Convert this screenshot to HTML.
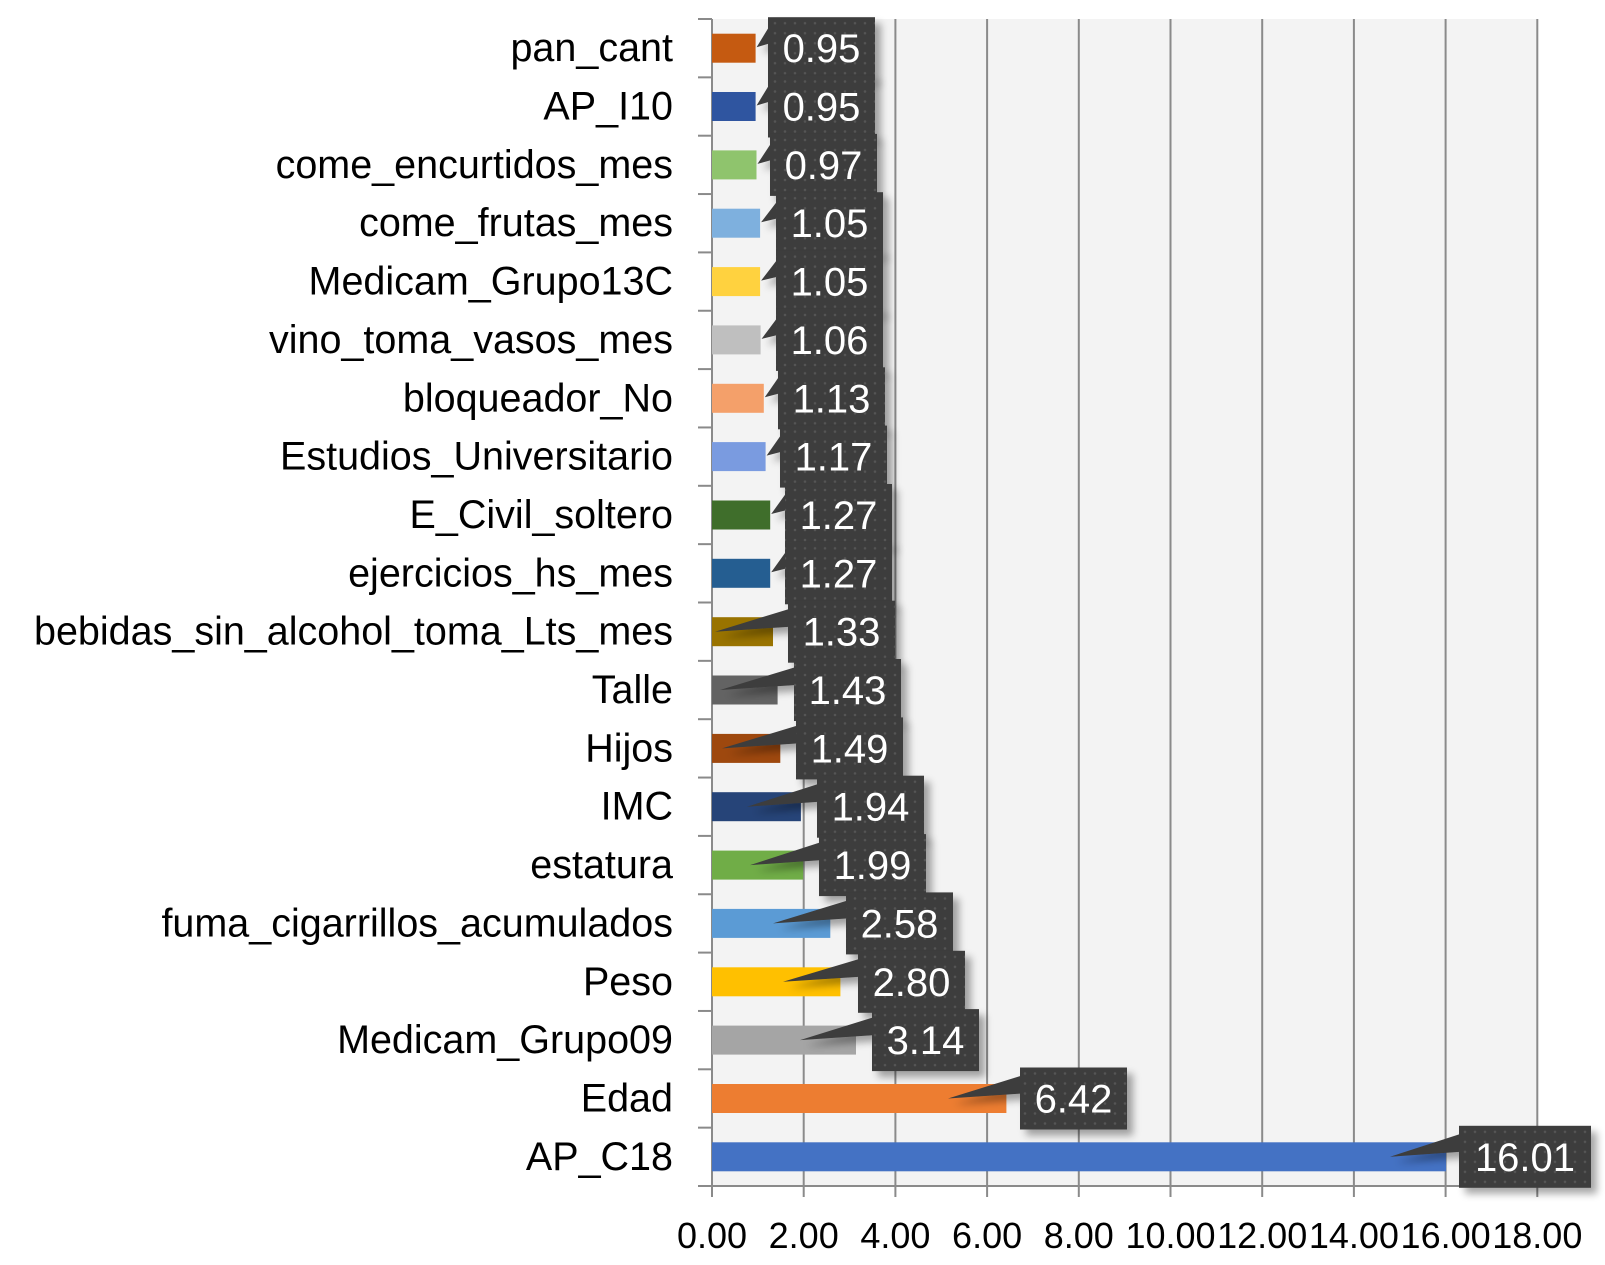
<!DOCTYPE html><html><head><style>body{margin:0;background:#fff}svg{display:block}</style></head><body>
<svg width="1605" height="1265" xmlns="http://www.w3.org/2000/svg" font-family="Liberation Sans, sans-serif">
<defs>
<pattern id="dots" width="10" height="10" patternUnits="userSpaceOnUse"><rect width="10" height="10" fill="#3c3c3c"/><circle cx="5" cy="5" r="1.3" fill="#555"/></pattern>
<filter id="sh" x="-20%" y="-20%" width="150%" height="150%"><feGaussianBlur in="SourceAlpha" stdDeviation="4"/><feOffset dx="6" dy="6"/><feComponentTransfer><feFuncA type="linear" slope="0.35"/></feComponentTransfer><feMerge><feMergeNode/><feMergeNode in="SourceGraphic"/></feMerge></filter>
</defs>
<rect x="712" y="19" width="825" height="1167" fill="#f3f3f3"/>
<g stroke="#8a8a8a" stroke-width="2">
<line x1="712" y1="19" x2="712" y2="1197"/><line x1="803.7" y1="19" x2="803.7" y2="1197"/><line x1="895.4" y1="19" x2="895.4" y2="1197"/><line x1="987.1" y1="19" x2="987.1" y2="1197"/><line x1="1078.8" y1="19" x2="1078.8" y2="1197"/><line x1="1170.5" y1="19" x2="1170.5" y2="1197"/><line x1="1262.2" y1="19" x2="1262.2" y2="1197"/><line x1="1353.9" y1="19" x2="1353.9" y2="1197"/><line x1="1445.6" y1="19" x2="1445.6" y2="1197"/><line x1="1537.3" y1="19" x2="1537.3" y2="1197"/>
<line x1="698" y1="1186" x2="1537" y2="1186"/>
<line x1="698" y1="19" x2="712" y2="19"/><line x1="698" y1="77.35" x2="712" y2="77.35"/><line x1="698" y1="135.7" x2="712" y2="135.7"/><line x1="698" y1="194.05" x2="712" y2="194.05"/><line x1="698" y1="252.4" x2="712" y2="252.4"/><line x1="698" y1="310.75" x2="712" y2="310.75"/><line x1="698" y1="369.1" x2="712" y2="369.1"/><line x1="698" y1="427.45" x2="712" y2="427.45"/><line x1="698" y1="485.8" x2="712" y2="485.8"/><line x1="698" y1="544.15" x2="712" y2="544.15"/><line x1="698" y1="602.5" x2="712" y2="602.5"/><line x1="698" y1="660.85" x2="712" y2="660.85"/><line x1="698" y1="719.2" x2="712" y2="719.2"/><line x1="698" y1="777.55" x2="712" y2="777.55"/><line x1="698" y1="835.9" x2="712" y2="835.9"/><line x1="698" y1="894.25" x2="712" y2="894.25"/><line x1="698" y1="952.6" x2="712" y2="952.6"/><line x1="698" y1="1010.95" x2="712" y2="1010.95"/><line x1="698" y1="1069.3" x2="712" y2="1069.3"/><line x1="698" y1="1127.65" x2="712" y2="1127.65"/>
</g>
<g font-size="36" text-anchor="middle" fill="#000">
<text x="712" y="1248">0.00</text><text x="803.7" y="1248">2.00</text><text x="895.4" y="1248">4.00</text><text x="987.1" y="1248">6.00</text><text x="1078.8" y="1248">8.00</text><text x="1170.5" y="1248">10.00</text><text x="1262.2" y="1248">12.00</text><text x="1353.9" y="1248">14.00</text><text x="1445.6" y="1248">16.00</text><text x="1537.3" y="1248">18.00</text>
</g>
<g font-size="39.5" text-anchor="end">
<g transform="translate(0,48.2)"><rect x="712" y="-14.5" width="43.6" height="29" fill="#c55a11"/><text x="673" y="13">pan_cant</text><g filter="url(#sh)"><polygon points="770,-23 756.6,-1 770,-5" fill="#3c3c3c"/><rect x="768" y="-31" width="107" height="62" fill="url(#dots)"/></g><text x="821.5" y="14" font-size="40" text-anchor="middle" fill="#fff">0.95</text></g>
<g transform="translate(0,106.5)"><rect x="712" y="-14.5" width="43.6" height="29" fill="#2f55a0"/><text x="673" y="13">AP_I10</text><g filter="url(#sh)"><polygon points="770,-23 756.6,-1 770,-5" fill="#3c3c3c"/><rect x="768" y="-31" width="107" height="62" fill="url(#dots)"/></g><text x="821.5" y="14" font-size="40" text-anchor="middle" fill="#fff">0.95</text></g>
<g transform="translate(0,164.9)"><rect x="712" y="-14.5" width="44.5" height="29" fill="#8fc46d"/><text x="673" y="13">come_encurtidos_mes</text><g filter="url(#sh)"><polygon points="772,-23 757.5,-1 772,-5" fill="#3c3c3c"/><rect x="770" y="-31" width="107" height="62" fill="url(#dots)"/></g><text x="823.5" y="14" font-size="40" text-anchor="middle" fill="#fff">0.97</text></g>
<g transform="translate(0,223.2)"><rect x="712" y="-14.5" width="48.1" height="29" fill="#7eb0de"/><text x="673" y="13">come_frutas_mes</text><g filter="url(#sh)"><polygon points="778,-23 761.1,-1 778,-5" fill="#3c3c3c"/><rect x="776" y="-31" width="107" height="62" fill="url(#dots)"/></g><text x="829.5" y="14" font-size="40" text-anchor="middle" fill="#fff">1.05</text></g>
<g transform="translate(0,281.6)"><rect x="712" y="-14.5" width="48.1" height="29" fill="#ffd23f"/><text x="673" y="13">Medicam_Grupo13C</text><g filter="url(#sh)"><polygon points="778,-23 761.1,-1 778,-5" fill="#3c3c3c"/><rect x="776" y="-31" width="107" height="62" fill="url(#dots)"/></g><text x="829.5" y="14" font-size="40" text-anchor="middle" fill="#fff">1.05</text></g>
<g transform="translate(0,339.9)"><rect x="712" y="-14.5" width="48.6" height="29" fill="#bfbfbf"/><text x="673" y="13">vino_toma_vasos_mes</text><g filter="url(#sh)"><polygon points="778,-23 761.6,-1 778,-5" fill="#3c3c3c"/><rect x="776" y="-31" width="107" height="62" fill="url(#dots)"/></g><text x="829.5" y="14" font-size="40" text-anchor="middle" fill="#fff">1.06</text></g>
<g transform="translate(0,398.3)"><rect x="712" y="-14.5" width="51.8" height="29" fill="#f4a06a"/><text x="673" y="13">bloqueador_No</text><g filter="url(#sh)"><polygon points="780,-23 764.8,-1 780,-5" fill="#3c3c3c"/><rect x="778" y="-31" width="107" height="62" fill="url(#dots)"/></g><text x="831.5" y="14" font-size="40" text-anchor="middle" fill="#fff">1.13</text></g>
<g transform="translate(0,456.6)"><rect x="712" y="-14.5" width="53.6" height="29" fill="#7a9be0"/><text x="673" y="13">Estudios_Universitario</text><g filter="url(#sh)"><polygon points="782,-23 766.6,-1 782,-5" fill="#3c3c3c"/><rect x="780" y="-31" width="107" height="62" fill="url(#dots)"/></g><text x="833.5" y="14" font-size="40" text-anchor="middle" fill="#fff">1.17</text></g>
<g transform="translate(0,515.0)"><rect x="712" y="-14.5" width="58.2" height="29" fill="#3f6e2b"/><text x="673" y="13">E_Civil_soltero</text><g filter="url(#sh)"><polygon points="787,-23 771.2,-1 787,-5" fill="#3c3c3c"/><rect x="785" y="-31" width="107" height="62" fill="url(#dots)"/></g><text x="838.5" y="14" font-size="40" text-anchor="middle" fill="#fff">1.27</text></g>
<g transform="translate(0,573.3)"><rect x="712" y="-14.5" width="58.2" height="29" fill="#255e91"/><text x="673" y="13">ejercicios_hs_mes</text><g filter="url(#sh)"><polygon points="787,-23 771.2,-1 787,-5" fill="#3c3c3c"/><rect x="785" y="-31" width="107" height="62" fill="url(#dots)"/></g><text x="838.5" y="14" font-size="40" text-anchor="middle" fill="#fff">1.27</text></g>
<g transform="translate(0,631.7)"><rect x="712" y="-14.5" width="61" height="29" fill="#997300"/><text x="673" y="13">bebidas_sin_alcohol_toma_Lts_mes</text><g filter="url(#sh)"><polygon points="790,-23 715,0 790,-5" fill="#3c3c3c"/><rect x="788" y="-31" width="107" height="62" fill="url(#dots)"/></g><text x="841.5" y="14" font-size="40" text-anchor="middle" fill="#fff">1.33</text></g>
<g transform="translate(0,690.0)"><rect x="712" y="-14.5" width="65.6" height="29" fill="#636363"/><text x="673" y="13">Talle</text><g filter="url(#sh)"><polygon points="796,-23 720,0 796,-5" fill="#3c3c3c"/><rect x="794" y="-31" width="107" height="62" fill="url(#dots)"/></g><text x="847.5" y="14" font-size="40" text-anchor="middle" fill="#fff">1.43</text></g>
<g transform="translate(0,748.4)"><rect x="712" y="-14.5" width="68.3" height="29" fill="#9e480e"/><text x="673" y="13">Hijos</text><g filter="url(#sh)"><polygon points="798,-23 722,0 798,-5" fill="#3c3c3c"/><rect x="796" y="-31" width="107" height="62" fill="url(#dots)"/></g><text x="849.5" y="14" font-size="40" text-anchor="middle" fill="#fff">1.49</text></g>
<g transform="translate(0,806.7)"><rect x="712" y="-14.5" width="88.9" height="29" fill="#264478"/><text x="673" y="13">IMC</text><g filter="url(#sh)"><polygon points="819,-23 747,0 819,-5" fill="#3c3c3c"/><rect x="817" y="-31" width="107" height="62" fill="url(#dots)"/></g><text x="870.5" y="14" font-size="40" text-anchor="middle" fill="#fff">1.94</text></g>
<g transform="translate(0,865.1)"><rect x="712" y="-14.5" width="91.2" height="29" fill="#70ad47"/><text x="673" y="13">estatura</text><g filter="url(#sh)"><polygon points="821,-23 750,0 821,-5" fill="#3c3c3c"/><rect x="819" y="-31" width="107" height="62" fill="url(#dots)"/></g><text x="872.5" y="14" font-size="40" text-anchor="middle" fill="#fff">1.99</text></g>
<g transform="translate(0,923.4)"><rect x="712" y="-14.5" width="118.3" height="29" fill="#5b9bd5"/><text x="673" y="13">fuma_cigarrillos_acumulados</text><g filter="url(#sh)"><polygon points="848,-23 773,0 848,-5" fill="#3c3c3c"/><rect x="846" y="-31" width="107" height="62" fill="url(#dots)"/></g><text x="899.5" y="14" font-size="40" text-anchor="middle" fill="#fff">2.58</text></g>
<g transform="translate(0,981.8)"><rect x="712" y="-14.5" width="128.4" height="29" fill="#ffc000"/><text x="673" y="13">Peso</text><g filter="url(#sh)"><polygon points="860,-23 783,0 860,-5" fill="#3c3c3c"/><rect x="858" y="-31" width="107" height="62" fill="url(#dots)"/></g><text x="911.5" y="14" font-size="40" text-anchor="middle" fill="#fff">2.80</text></g>
<g transform="translate(0,1040.1)"><rect x="712" y="-14.5" width="144" height="29" fill="#a5a5a5"/><text x="673" y="13">Medicam_Grupo09</text><g filter="url(#sh)"><polygon points="874,-23 800,0 874,-5" fill="#3c3c3c"/><rect x="872" y="-31" width="107" height="62" fill="url(#dots)"/></g><text x="925.5" y="14" font-size="40" text-anchor="middle" fill="#fff">3.14</text></g>
<g transform="translate(0,1098.5)"><rect x="712" y="-14.5" width="294.4" height="29" fill="#ed7d31"/><text x="673" y="13">Edad</text><g filter="url(#sh)"><polygon points="1022,-23 948,0 1022,-5" fill="#3c3c3c"/><rect x="1020" y="-31" width="107" height="62" fill="url(#dots)"/></g><text x="1073.5" y="14" font-size="40" text-anchor="middle" fill="#fff">6.42</text></g>
<g transform="translate(0,1156.8)"><rect x="712" y="-14.5" width="734.1" height="29" fill="#4472c4"/><text x="673" y="13">AP_C18</text><g filter="url(#sh)"><polygon points="1461,-23 1390,0 1461,-5" fill="#3c3c3c"/><rect x="1459" y="-31" width="132" height="62" fill="url(#dots)"/></g><text x="1525" y="14" font-size="40" text-anchor="middle" fill="#fff">16.01</text></g>
</g>
</svg></body></html>
